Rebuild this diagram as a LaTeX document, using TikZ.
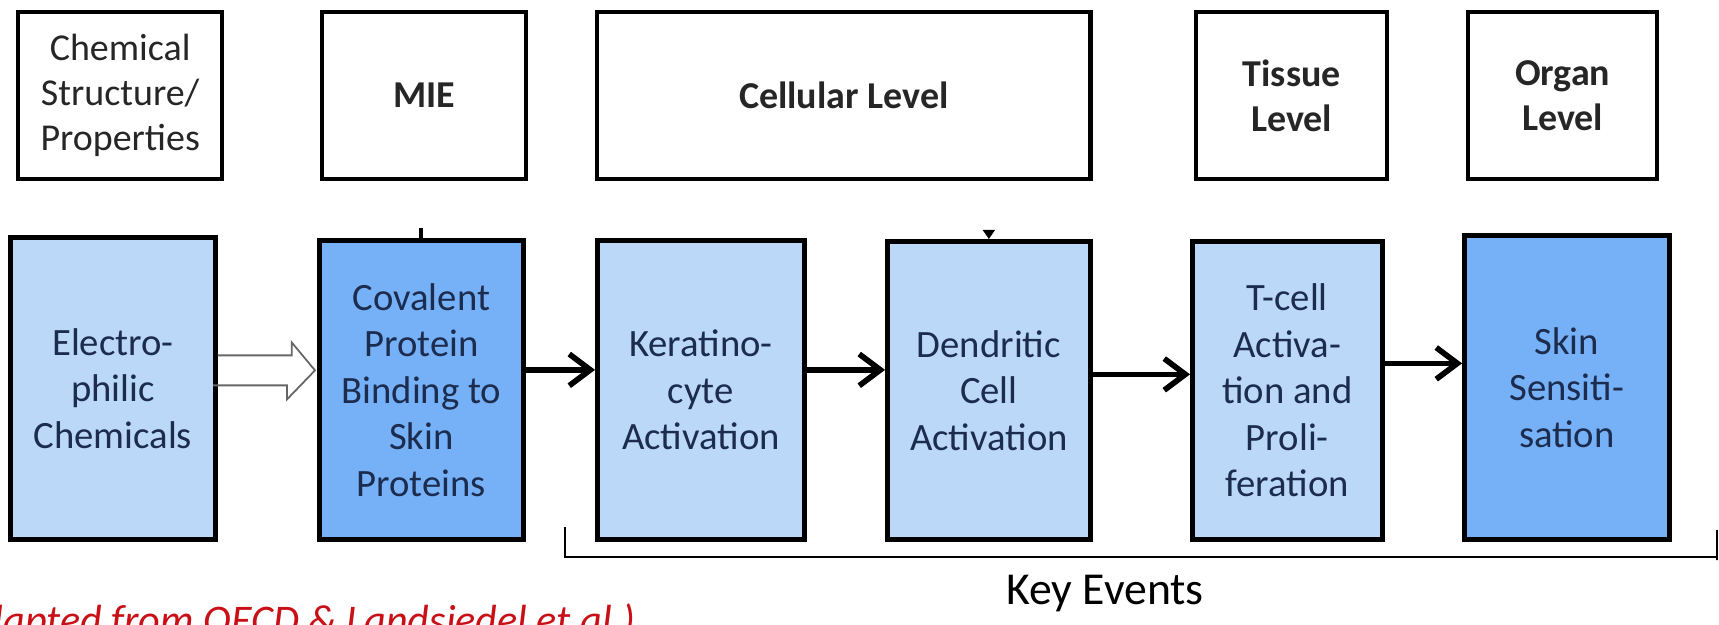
\documentclass[tikz,border=0pt]{standalone}
\usepackage{fontspec}
\setmainfont{Carlito}
\usepackage{tikz}
\usetikzlibrary{arrows.meta}
\definecolor{keblue}{RGB}{187,216,248}
\definecolor{keblueD}{RGB}{118,176,246}
\definecolor{kenavy}{RGB}{28,44,78}
\definecolor{oecdred}{RGB}{200,16,22}
\tikzset{
  levelbox/.style={draw=black,line width=1.2pt,fill=white,inner sep=0pt,
                   align=center,anchor=north west,minimum height=1.67cm,
                   text=black!85,font=\fontsize{10.8}{12.8}\selectfont},
  eventbox/.style={draw=black,line width=1.3pt,fill=keblue,inner sep=0pt,
                   align=center,anchor=north west,text=kenavy,
                   font=\fontsize{11}{13.2}\selectfont},
  keyarrow/.style={-{Straight Barb[length=6pt,width=9pt]},line width=1.6pt}}

\begin{document}
\begin{tikzpicture}[x=0.01cm,y=-0.01cm,
   openarrow/.style={draw=black!60,line width=0.5pt,line join=miter},
   keybrace/.style={draw=black,line width=0.6pt}]
\useasboundingbox (0,0) rectangle (1719,624);

\node[levelbox,minimum width=2.04cm] (chem) at (16,10) {Chemical\\Structure/\\Properties};
\node[levelbox,minimum width=2.04cm,font=\fontsize{10.8}{12.8}\selectfont\bfseries] (mie) at (320,10) {MIE};
\node[levelbox,minimum width=4.93cm,font=\fontsize{10.8}{12.8}\selectfont\bfseries] (cell) at (595,10) {Cellular Level};
\node[levelbox,minimum width=1.91cm,font=\fontsize{10.8}{12.8}\selectfont\bfseries] (tiss) at (1194,10) {Tissue\\Level};
\node[levelbox,minimum width=1.89cm,font=\fontsize{10.8}{12.8}\selectfont\bfseries] (organ) at (1466,10) {Organ\\Level};

\node[eventbox,minimum width=2.05cm,minimum height=3.02cm] (elec) at (8,235) {Electro-\\philic\\Chemicals};
\node[eventbox,fill=keblueD,minimum width=2.04cm,minimum height=2.99cm] (cov) at (317,238) {Covalent\\Protein\\Binding to\\Skin\\Proteins};
\node[eventbox,minimum width=2.07cm,minimum height=2.99cm] (ker) at (595,238) {Keratino-\\cyte\\Activation};
\node[eventbox,minimum width=2.03cm,minimum height=2.98cm] (den) at (885,239) {Dendritic\\Cell\\Activation};
\node[eventbox,minimum width=1.90cm,minimum height=2.98cm] (tcell) at (1190,239) {T-cell\\Activa-\\tion and\\Proli-\\feration};
\node[eventbox,fill=keblueD,minimum width=2.05cm,minimum height=3.04cm] (skin) at (1462,233) {Skin\\Sensiti-\\sation};

\coordinate (oa) at ([yshift=0.18cm]elec.east);
\coordinate (oatip) at (oa -| cov.west);
\draw[openarrow] (oa) ++(0,-15) -- ++(74,0) -- ++(0,-13) -- ([xshift=-0.02cm]oatip)
   -- ++(-28,29) -- ++(0,-14) -- ++(-74,0);

\coordinate (a1) at ([yshift=0.2cm]cov.east);
\coordinate (a2) at ([yshift=0.2cm]ker.east);
\coordinate (a3) at ([yshift=0.16cm]den.east);
\coordinate (a4) at ([yshift=0.27cm]tcell.east);
\draw[keyarrow] (a1) -- (a1 -| ker.west);
\draw[keyarrow] (a2) -- (a2 -| den.west);
\draw[keyarrow] (a3) -- (a3 -| tcell.west);
\draw[keyarrow] (a4) -- (a4 -| skin.west);

\draw[line width=1.2pt] (cov.north) -- ++(0,-10);
\draw[-{Triangle[length=2.6pt,width=3.4pt]},line width=0.6pt] ([yshift=0.09cm]den.north) -- (den.north);

\coordinate (kl) at (565,527);
\coordinate (kb) at (1717,557);
\draw[keybrace] (kl) |- (kb) -- ++(0,3) -- ++(0,-30);
\node[anchor=base,font=\fontsize{13}{15}\selectfont] (kev) at (1105,604) {Key Events};

\begin{scope}
\clip (0,0) rectangle (1719,624);
\node[anchor=base west,text=oecdred,font=\fontsize{12}{14}\selectfont\itshape] (src) at (-68,634)
  {(Adapted from OECD \& Landsiedel et al.)};
\end{scope}
\end{tikzpicture}
\end{document}
